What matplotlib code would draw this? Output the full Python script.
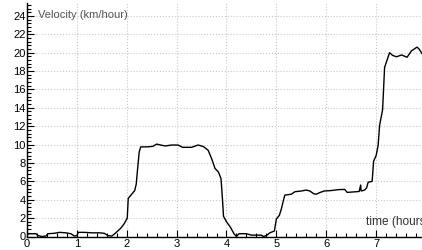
import matplotlib
matplotlib.use("Agg")
import matplotlib.pyplot as plt
from matplotlib.ticker import MultipleLocator

# --- data ---
time_hours = [
    0.00, 0.05, 0.18, 0.22, 0.30, 0.38, 0.42, 0.55, 0.65, 0.78,
    0.88, 0.95, 1.00, 1.03, 1.15, 1.30, 1.45, 1.55, 1.62, 1.70,
    1.76, 1.82, 1.88, 1.95, 2.01, 2.03, 2.10, 2.16, 2.19, 2.22,
    2.25, 2.28, 2.40, 2.52, 2.60, 2.68, 2.77, 2.90, 3.03, 3.12,
    3.30, 3.43, 3.53, 3.63, 3.70, 3.77, 3.84, 3.89, 3.92, 3.94,
    4.00, 4.08, 4.15, 4.20, 4.25, 4.40, 4.50, 4.70, 4.74, 4.80,
    4.87, 4.96, 5.00, 5.06, 5.10, 5.14, 5.17, 5.30, 5.37, 5.50,
    5.60, 5.67, 5.75, 5.80, 5.88, 5.96, 6.10, 6.25, 6.37, 6.42,
    6.55, 6.66, 6.69, 6.70, 6.77, 6.81, 6.84, 6.92, 6.95, 7.00,
    7.04, 7.07, 7.13, 7.17, 7.22, 7.27, 7.33, 7.41, 7.51, 7.62,
    7.71, 7.82, 7.86, 7.92,
]
velocity = [
    0.25, 0.30, 0.30, 0.10, 0.00, 0.05, 0.30, 0.35, 0.45, 0.40,
    0.30, 0.05, 0.10, 0.45, 0.45, 0.40, 0.40, 0.35, 0.10, 0.05,
    0.30, 0.60, 0.90, 1.40, 2.00, 4.15, 4.60, 5.00, 5.70, 7.50,
    9.20, 9.75, 9.75, 9.80, 10.05, 9.95, 9.85, 9.95, 9.95, 9.70,
    9.70, 9.95, 9.80, 9.40, 8.50, 7.40, 7.00, 6.30, 4.00, 2.20,
    1.60, 1.00, 0.30, 0.00, 0.30, 0.30, 0.15, 0.15, 0.00, 0.10,
    0.40, 0.60, 1.90, 2.30, 3.00, 3.90, 4.50, 4.60, 4.87, 4.95,
    5.05, 4.95, 4.65, 4.60, 4.80, 4.95, 5.00, 5.10, 5.12, 4.80,
    4.85, 4.90, 5.60, 4.95, 5.05, 5.30, 5.90, 6.00, 8.20, 8.80,
    9.90, 12.10, 13.80, 18.40, 19.20, 20.00, 19.70, 19.55, 19.75, 19.50,
    20.20, 20.60, 20.40, 19.90,
]

plt.rcParams['font.family'] = ['Liberation Sans', 'DejaVu Sans']

fig = plt.figure(figsize=(4.22, 2.5), dpi=100)
ax = fig.add_axes([27 / 422, 13.5 / 250, 1 - 27 / 422, 233.5 / 250])

ax.plot(time_hours, velocity, color='black', linewidth=1.0)

ax.set_xlim(0, 7.92)
ax.set_ylim(0, 25.4)

ax.xaxis.set_major_locator(MultipleLocator(1))
ax.xaxis.set_minor_locator(MultipleLocator(0.2))
ax.yaxis.set_major_locator(MultipleLocator(2))
ax.yaxis.set_minor_locator(MultipleLocator(0.4))

ax.tick_params(which='both', direction='in', labelsize=8, colors='black', width=0.8)
ax.tick_params(which='major', length=5)
ax.tick_params(which='minor', length=3)
ax.tick_params(axis='x', pad=1.5)
ax.tick_params(axis='y', pad=1)

ax.grid(True, which='major', linestyle=':', color='#c8c8c8', linewidth=0.8)
ax.set_axisbelow(True)

for side in ['top', 'right']:
    ax.spines[side].set_visible(False)
for side in ['left', 'bottom']:
    ax.spines[side].set_linewidth(1.0)

ax.text(0.22, 24.1, 'Velocity (km/hour)', fontsize=8, color='#555555', va='center', ha='left')
# the axis title runs past the right edge, as in the original
ax.text(6.8, 1.6, 'time (hours)', fontsize=8.6, color='#333333', va='center', ha='left', clip_on=False)

fig.savefig('out.png', dpi=100)
